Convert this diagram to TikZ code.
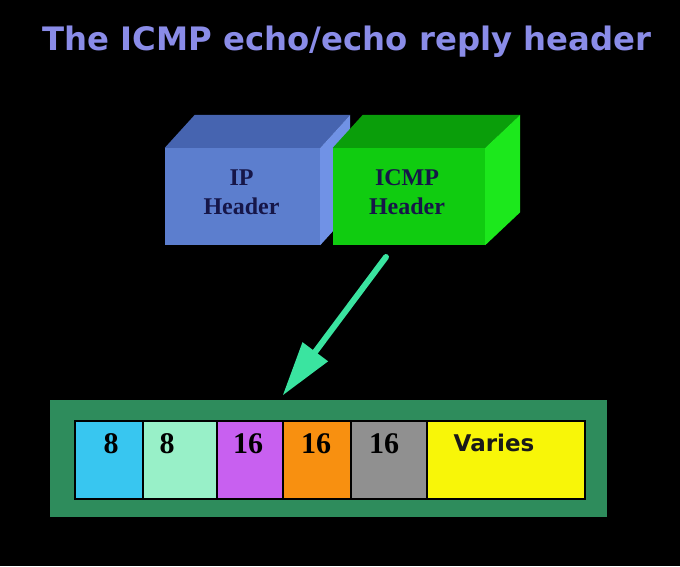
\documentclass[tikz,border=0pt]{standalone}
\usepackage{fontspec}
\setmainfont{Liberation Serif}
\newfontfamily\titlefont{DejaVu Sans}
\usetikzlibrary{calc}
\definecolor{titlecol}{RGB}{138,140,232}
\definecolor{ipfront}{RGB}{92,126,206}
\definecolor{iptop}{RGB}{70,100,176}
\definecolor{ipside}{RGB}{112,146,230}
\definecolor{grfront}{RGB}{16,204,16}
\definecolor{grtop}{RGB}{10,158,10}
\definecolor{grside}{RGB}{28,232,28}
\definecolor{boxtext}{RGB}{22,22,72}
\definecolor{arrowcol}{RGB}{58,228,160}
\definecolor{framecol}{RGB}{46,140,92}
\definecolor{cA}{RGB}{56,198,240}
\definecolor{cB}{RGB}{152,240,200}
\definecolor{cC}{RGB}{200,96,240}
\definecolor{cD}{RGB}{248,144,16}
\definecolor{cE}{RGB}{144,144,144}
\definecolor{cF}{RGB}{248,246,8}
\tikzset{
  front/.style={draw=none, minimum height=97pt, inner sep=0pt},
  boxlabel/.style={align=center, inner sep=0pt, text=boxtext, font=\fontsize{24}{29}\selectfont\bfseries},
  cell/.style={draw=black, line width=2.5pt, minimum height=78pt, inner sep=0pt, anchor=north west},
  num/.style={text=black, font=\fontsize{30}{30}\selectfont\bfseries},
}
\begin{document}
\begin{tikzpicture}[x=1pt,y=-1pt]
\useasboundingbox[fill=black] (0,0) rectangle (680,566);
% title
\node[text=titlecol, font=\titlefont\fontsize{32.3}{34}\selectfont\bfseries] (title) at (347,42) {The ICMP echo/echo reply header};
% IP box
\node[front, fill=ipfront, minimum width=155pt] (ip) at (242.5,196.5) {};
\fill[iptop] (ip.north west) -- ++(30,-33) -- ([xshift=30pt,yshift=33pt]ip.north east) -- (ip.north east) -- cycle;
\fill[ipside] (ip.north east) -- ++(30,-33) -- ([xshift=30pt,yshift=33pt]ip.south east) -- (ip.south east) -- cycle;
\node[boxlabel] (iplabel) at ([xshift=-1pt,yshift=4pt]ip.center) {IP\\Header};
% ICMP box
\node[front, fill=grfront, minimum width=152pt] (icmp) at (409,196.5) {};
\fill[grtop] (icmp.north west) -- ++(30,-33) -- ([xshift=35pt,yshift=33pt]icmp.north east) -- (icmp.north east) -- cycle;
\fill[grside] (icmp.north east) -- ++(35,-33) -- ([xshift=35pt,yshift=33pt]icmp.south east) -- (icmp.south east) -- cycle;
\node[boxlabel] (icmplabel) at ([xshift=-2pt,yshift=4pt]icmp.center) {ICMP\\Header};
% outer frame
\node[fill=framecol, draw=none, minimum width=557pt, minimum height=117pt, inner sep=0pt, anchor=north west] (frame) at (50,400) {};
% cells
\node[cell, fill=cA, minimum width=68pt] (c1) at (73.5,419.5) {};
\node[cell, fill=cB, minimum width=74pt] (c2) at (141.5,419.5) {};
\node[cell, fill=cC, minimum width=66pt] (c3) at (215.5,419.5) {};
\node[cell, fill=cD, minimum width=68pt] (c4) at (281.5,419.5) {};
\node[cell, fill=cE, minimum width=76pt] (c5) at (349.5,419.5) {};
\node[cell, fill=cF, minimum width=158pt] (c6) at (425.5,419.5) {};
\node[num] (n1) at (111,444) {8};
\node[num] (n2) at (167,444) {8};
\node[num] (n3) at (248,444) {16};
\node[num] (n4) at (316,444) {16};
\node[num] (n5) at (384,444) {16};
\node[text=black!90, font=\titlefont\fontsize{23}{24}\selectfont\bfseries] (n6) at (494,443) {Varies};
% arrow
\coordinate (astart) at (386,257);
\coordinate (aend) at (283,395);
\coordinate (abase) at ($(aend)!54pt!(astart)$);
\draw[arrowcol, line width=6pt, line cap=round] (astart) -- ($(aend)!45pt!(astart)$);
\fill[arrowcol] (aend) -- ($(abase)!16pt!90:(aend)$) -- ($(abase)!16pt!-90:(aend)$) -- cycle;
\end{tikzpicture}
\end{document}
